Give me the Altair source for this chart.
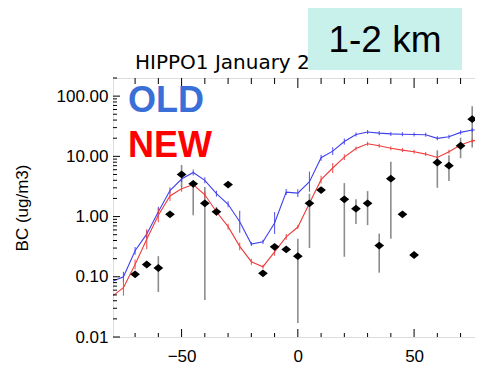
import altair as alt
import pandas as pd

# ---------------- data ----------------
model_lat = [-80, -75, -70, -65, -60, -55, -50, -45, -40, -35, -30, -25, -20, -15, -10, -5,
             0, 5, 10, 15, 20, 25, 30, 35, 40, 45, 50, 55, 60, 65, 70, 75, 80]
old_bc = [0.083, 0.10, 0.27, 0.51, 1.2, 2.7, 4.2, 5.4, 4.0, 2.4, 1.6, 0.82, 0.35, 0.38, 0.78, 2.55,
          2.45, 3.8, 9.5, 12.2, 17.6, 23.0, 25.4, 24.3, 23.6, 23.3, 23.0, 22.8, 19.9, 21.2, 25.0, 27.3, 29.0]
new_bc = [0.047, 0.066, 0.16, 0.42, 1.05, 2.2, 2.9, 3.4, 2.3, 1.2, 0.68, 0.32, 0.178, 0.147, 0.26, 0.46,
          0.67, 1.66, 4.1, 6.4, 9.7, 13.5, 16.2, 15.0, 13.6, 12.7, 11.9, 10.9, 9.6, 11.9, 15.4, 18.1, 18.8]
# multiplicative spread of the small model error ticks
old_spread = [1.12, 1.21, 1.16, 1.16, 1.21, 1.12, 1.12, 1.12, 1.12, 1.12, 1.12, 1.52, 1.08, 1.08, 1.52, 1.12,
              1.16, 1.47, 1.12, 1.16, 1.12, 1.08, 1.08, 1.08, 1.08, 1.08, 1.08, 1.08, 1.08, 1.08, 1.08, 1.08, 1.08]
new_spread = [1.12, 1.36, 1.21, 1.47, 1.30, 1.21, 1.12, 1.12, 1.12, 1.16, 1.12, 1.16, 1.12, 1.08, 1.16, 1.12,
              1.08, 1.12, 1.16, 1.21, 1.12, 1.08, 1.08, 1.08, 1.08, 1.08, 1.08, 1.08, 1.08, 1.08, 1.08, 1.08, 1.08]

obs_lat = [-70, -65, -60, -55, -50, -45, -40, -35, -30, -15, -10, -5, 0, 5, 10,
           20, 25, 30, 35, 40, 45, 50, 60, 65, 70, 75]
obs_bc = [0.11, 0.16, 0.14, 1.09, 5.0, 3.5, 1.66, 1.2, 3.4, 0.114, 0.315, 0.285, 0.22, 1.66, 2.75,
          1.93, 1.35, 1.66, 0.33, 4.25, 1.09, 0.23, 7.9, 7.0, 15.0, 41.5]
obs_lo = [0.11, 0.16, 0.056, 1.09, 3.1, 1.05, 0.041, 1.06, 3.4, 0.114, 0.315, 0.285, 0.017, 0.30, 2.75,
          0.215, 0.75, 0.72, 0.117, 0.43, 1.09, 0.23, 3.0, 3.9, 9.3, 14.0]
obs_hi = [0.11, 0.16, 0.22, 1.09, 7.2, 4.0, 3.1, 1.45, 3.4, 0.114, 0.315, 0.285, 0.43, 2.4, 2.75,
          3.6, 1.93, 2.65, 0.52, 8.1, 1.09, 0.23, 12.6, 10.4, 20.4, 68.0]

y_major = [0.01, 0.1, 1, 10, 100]
y_mantissa = [2, 3, 4, 5, 6, 7, 8, 9]
x_major = [-50, 0, 50]
x_minor = [-70, -60, -40, -30, -20, -10, 10, 20, 30, 40, 60, 70]

title_text = "HIPPO1 January 2009"
box_text = "1-2 km"
y_title = "BC (ug/m3)"

# ---------------- tables ----------------
y_minor = [m * d for d in [0.01, 0.1, 1, 10, 100] for m in y_mantissa if m * d <= 200]

rows = []
for name, vals, spr in [("OLD", old_bc, old_spread), ("NEW", new_bc, new_spread)]:
    for lat, v, s in zip(model_lat, vals, spr):
        rows.append({"lat": lat, "bc": v, "lo": v / s, "hi": v * s, "run": name})
model = pd.DataFrame(rows)
obs = pd.DataFrame({"lat": obs_lat, "bc": obs_bc, "lo": obs_lo, "hi": obs_hi})

W, H = 362, 259
FONT = "Liberation Sans"

xs = alt.Scale(domain=[-79.5, 76.2], nice=False, zero=False)
ys = alt.Scale(type="log", domain=[0.01, 200], nice=False)
xaxis = alt.Axis(values=x_major, format="d", ticks=False, tickSize=0, domain=False, grid=False,
                 labelFontSize=17, labelFont=FONT, labelColor="black", labelPadding=11, title=None)
yaxis = alt.Axis(values=y_major, format=".2f", ticks=False, tickSize=0, domain=False, grid=False,
                 labelFontSize=17, labelFont=FONT, labelColor="black", labelPadding=5,
                 title=y_title, titleFont=FONT, titleFontSize=17, titleFontWeight="normal",
                 titleColor="black", titleX=-91, titleY=H / 2, titleBaseline="middle", titleAngle=-90)

X = lambda f: alt.X(f, type="quantitative", scale=xs, axis=xaxis)
Y = lambda f: alt.Y(f, type="quantitative", scale=ys, axis=yaxis)

colors = alt.Scale(domain=["OLD", "NEW"], range=["#4040ee", "#ee3c3c"])

obs_bars = alt.Chart(obs).mark_rule(color="#8c8c8c", strokeWidth=1.6).encode(
    x=X("lat"), y=Y("lo"), y2="hi")
lines = alt.Chart(model).mark_line(strokeWidth=1.1, clip=True).encode(
    x=X("lat"), y=Y("bc"), color=alt.Color("run:N", scale=colors, legend=None), detail="run:N")
mticks = alt.Chart(model).mark_rule(strokeWidth=1.1, opacity=0.85, clip=True).encode(
    x=X("lat"), y=Y("lo"), y2="hi", color=alt.Color("run:N", scale=colors, legend=None))
diamonds = alt.Chart(obs).mark_point(shape="M-1,0L0,-0.8L1,0L0,0.8Z", filled=True, size=95,
                                     color="black", opacity=1).encode(x=X("lat"), y=Y("bc"))

# inward axis ticks (frame ticks on all four sides)
ymin_df = pd.DataFrame({"v": y_minor})
ymaj_df = pd.DataFrame({"v": y_major})
xmin_df = pd.DataFrame({"v": x_minor})
xmaj_df = pd.DataFrame({"v": x_major})
tick_layers = []
for df, ln in [(ymin_df, 4), (ymaj_df, 7)]:
    tick_layers.append(alt.Chart(df).mark_rule(color="black", strokeWidth=1).encode(
        y=Y("v"), x=alt.value(0), x2=alt.value(ln)))
for df, ln in [(xmin_df, 4), (xmaj_df, 8)]:
    tick_layers.append(alt.Chart(df).mark_rule(color="black", strokeWidth=1).encode(
        x=X("v"), y=alt.value(H), y2=alt.value(H - ln)))
    tick_layers.append(alt.Chart(df).mark_rule(color="black", strokeWidth=1).encode(
        x=X("v"), y=alt.value(0), y2=alt.value(ln + 2)))

one = pd.DataFrame({"a": [0]})
title_mark = alt.Chart(pd.DataFrame({"t": [title_text]})).mark_text(
    font="DejaVu Sans", fontSize=20, align="left", baseline="alphabetic", color="black").encode(
    text="t:N", x=alt.value(22), y=alt.value(-9.5))
box = alt.Chart(one).mark_rect(color="#c8f1ec").encode(
    x=alt.value(195), x2=alt.value(349), y=alt.value(-73), y2=alt.value(-8))
box_label = alt.Chart(pd.DataFrame({"t": [box_text]})).mark_text(
    font=FONT, fontSize=37, align="center", baseline="alphabetic", color="black").encode(
    text="t:N", x=alt.value(272), y=alt.value(-26))
old_label = alt.Chart(pd.DataFrame({"t": ["OLD"]})).mark_text(
    font=FONT, fontSize=36, fontWeight="bold", align="left", baseline="alphabetic", color="#3a6fd8").encode(
    text="t:N", x=alt.value(15), y=alt.value(34))
new_label = alt.Chart(pd.DataFrame({"t": ["NEW"]})).mark_text(
    font=FONT, fontSize=36, fontWeight="bold", align="left", baseline="alphabetic", color="#ff0000").encode(
    text="t:N", x=alt.value(15), y=alt.value(79))

chart = alt.layer(
    obs_bars, lines, mticks, *tick_layers, diamonds,
    title_mark, box, box_label, old_label, new_label
).properties(
    width=W, height=H,
    autosize=alt.AutoSizeParams(type="none"),
    padding={"left": 105, "top": 70, "right": 0, "bottom": 27},
).configure_view(stroke="black", strokeWidth=1).configure(background="white")

chart.save("out.html", embed_options={"renderer": "svg", "actions": False})
